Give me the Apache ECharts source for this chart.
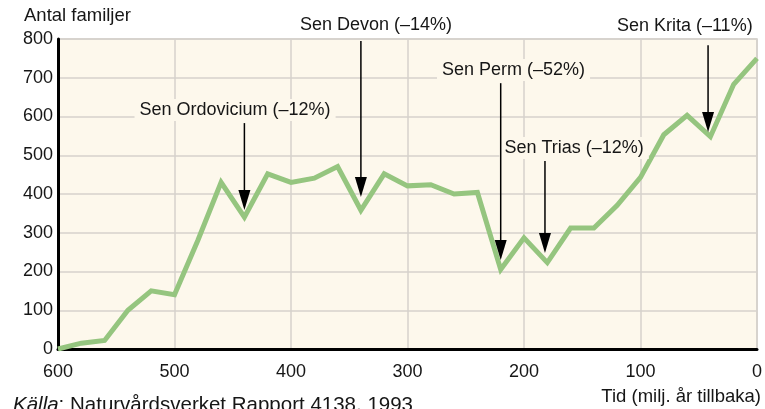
<!DOCTYPE html>
<html>
<head>
<meta charset="utf-8">
<script src="https://cdn.jsdelivr.net/npm/echarts@6/dist/echarts.min.js"></script>
<style>
html,body{margin:0;padding:0;background:#fff;}
#c{width:765px;height:409px;}
</style>
</head>
<body>
<div id="c"></div>
<script>
// Time (million years ago) and number of families
const timeMyr = [600,580,560,540,520,500,480,460,440,420,400,380,360,340,320,300,280,260,240,220,200,180,160,140,120,100,80,60,40,20,0];
const families = [0,15,22,100,150,140,280,430,340,452,430,441,471,358,452,421,424,400,404,205,287,223,312,312,371,443,553,603,548,683,750];
const xTicks = [600,500,400,300,200,100,0];
const yTicks = [0,100,200,300,400,500,600,700,800];

// Extinction annotations (data coordinates)
const annoNames = ["Sen Ordovicium (–12%)","Sen Devon (–14%)","Sen Perm (–52%)","Sen Trias (–12%)","Sen Krita (–11%)"];
const annoX     = [440, 340, 220, 182, 42];
const annoTop   = [583, 795, 686, 485, 784];
const annoTip   = [359, 392, 230, 248, 560];
const labelX    = [448, 327, 209, 157, 62];
const labelY    = [617, 836, 720, 519, 834];

const FONT = '"Liberation Sans", Arial, Helvetica, sans-serif';
const CREAM = '#fdf8ec';
const TXT = '#161616';

const chart = echarts.init(document.getElementById('c'), null, {renderer:'canvas'});
const option = {
  animation:false,
  backgroundColor:'#ffffff',
  grid:{left:58, top:39, width:700, height:310, show:true, backgroundColor:CREAM, borderColor:'#cfcbc6', borderWidth:1.5},
  xAxis:{
    type:'value', inverse:true, min:0, max:600, interval:100,
    axisLine:{show:true, onZero:false, lineStyle:{color:'#000', width:3}},
    axisTick:{show:false},
    axisLabel:{color:TXT, fontSize:18, fontFamily:FONT, margin:14,
      formatter:v=> xTicks.indexOf(v)>=0 ? String(v) : ''},
    splitLine:{show:true, lineStyle:{color:'#d6d2cc', width:1.5}}
  },
  yAxis:{
    type:'value', min:0, max:800, interval:100,
    axisLine:{show:true, onZero:false, lineStyle:{color:'#000', width:3}},
    axisTick:{show:false},
    axisLabel:{color:TXT, fontSize:18, fontFamily:FONT, margin:5,
      formatter:v=> yTicks.indexOf(v)>=0 ? String(v) : ''},
    splitLine:{show:true, lineStyle:{color:'#d6d2cc', width:1.5}}
  },
  series:[{
    type:'line',
    data: timeMyr.map((t,i)=>[t, families[i]]),
    symbol:'none',
    lineStyle:{color:'#95c57f', width:5, join:'miter'},
    z:3
  }]
};
chart.setOption(option);

function px(x,y){ return chart.convertToPixel({gridIndex:0},[x,y]); }
const g = [];
annoNames.forEach((name,i)=>{
  const top = px(annoX[i], annoTop[i]);
  const tip = px(annoX[i], annoTip[i]);
  const headLen = 20, headW = 12;
  g.push({type:'line', z:100, shape:{x1:top[0], y1:top[1], x2:tip[0], y2:tip[1]-headLen+2}, style:{stroke:'#000', lineWidth:1.5}});
  g.push({type:'polygon', z:100, shape:{points:[[tip[0]-headW/2, tip[1]-headLen],[tip[0]+headW/2, tip[1]-headLen],[tip[0], tip[1]]]}, style:{fill:'#000'}});
  const lp = px(labelX[i], labelY[i]);
  const inside = labelY[i] < 800;
  g.push({type:'text', z:90, x:lp[0], y:lp[1], style:{text:name, font:'18px '+FONT, fill:TXT, align:'center', verticalAlign:'middle',
    backgroundColor: inside ? CREAM : 'transparent', padding:[2,5]}});
});
g.push({type:'text', z:90, x:24, y:16, style:{text:'Antal familjer', font:'18.5px '+FONT, fill:TXT, align:'left', verticalAlign:'middle'}});
g.push({type:'text', z:90, x:761, y:397, style:{text:'Tid (milj. år tillbaka)', font:'18.5px '+FONT, fill:TXT, align:'right', verticalAlign:'middle'}});
g.push({type:'text', z:90, x:13, y:405, style:{
  text:'{i|Källa}: Naturvårdsverket Rapport 4138, 1993', font:'20.5px '+FONT, fill:TXT, align:'left', verticalAlign:'middle',
  rich:{i:{fontStyle:'italic', fontSize:20.5, fontFamily:FONT, fill:TXT}}}});
chart.setOption({graphic:g});
</script>
</body>
</html>
